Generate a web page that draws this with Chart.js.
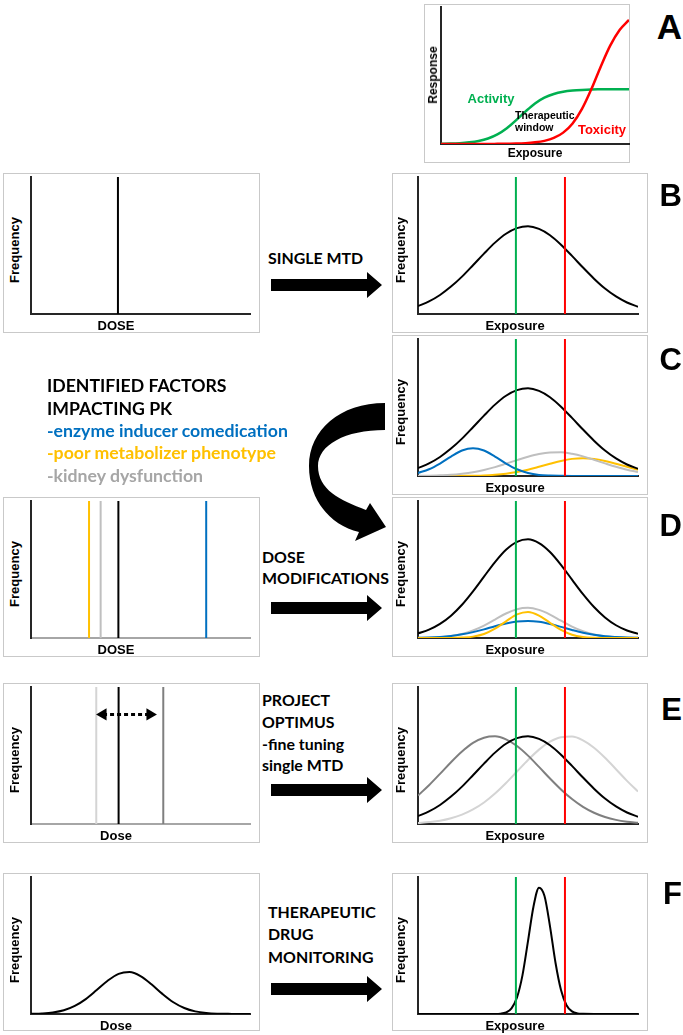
<!DOCTYPE html>
<html>
<head>
<meta charset="utf-8">
<title>Dose and exposure</title>
<script src="https://cdn.jsdelivr.net/npm/chart.js@4.4.1/dist/chart.umd.min.js"></script>
<style>
  body { margin: 0; width: 683px; height: 1035px; position: relative; overflow: hidden; background: #fff;
         font-family: "Liberation Sans", Arial, sans-serif; }
  canvas { position: absolute; }
  .box { position: absolute; border: 1.5px solid #c9c9c9; box-sizing: border-box; }
  .lbl { position: absolute; white-space: nowrap; line-height: 1; font-weight: bold; color: #000;
         transform: translate(-50%, -50%); }
  .rot { transform: translate(-50%, -50%) rotate(-90deg); }
  .mid { position: absolute; white-space: nowrap; line-height: 1; font-family: Lato, "Open Sans", sans-serif;
         font-weight: 700; transform: translateY(-50%); }
  .letter { position: absolute; right: 1px; line-height: 1; font-weight: bold; transform: translateY(-50%); }
  svg { position: absolute; left: 0; top: 0; }
</style>
</head>
<body>
<svg id="arrows" width="683" height="1035"></svg>
<script>
const xs = [0, 5, 10, 15, 20, 25, 30, 35, 40, 45, 50, 55, 60, 65, 70, 75, 80, 85, 90, 95, 100];
const fineXs = [0, 20, 30, 35, 37.5, 40, 42.5, 45, 47.5, 50, 52.5, 55, 57.5, 60, 62.5, 65, 67.5, 70, 72.5, 75, 80, 100];

// A: response vs exposure
const aActivity = [0.2, 0.3, 0.6, 1.2, 2.2, 4.0, 7.0, 11.5, 17.4, 23.8, 29.6, 33.8, 36.5, 38.1, 39.0, 39.5, 39.8, 39.9, 40, 40, 40];
const aToxicity = [0, 0, 0, 0, 0, 0, 0.1, 0.2, 0.3, 0.6, 1.2, 2.3, 4.4, 8.3, 15.0, 25.6, 40.1, 56.6, 71.8, 83.2, 90.6];

// B: single MTD
const bDose = [39.7];
const bExposure = [5.8, 9.2, 13.9, 20.0, 27.3, 35.6, 44.1, 52.1, 58.6, 62.7, 64.0, 62.1, 57.5, 50.6, 42.4, 33.9, 25.8, 18.6, 12.8, 8.4, 5.3];

// exposure limits (activity, toxicity)
const exposureLimits = [44.5, 66.8];

// C: identified factors
const cAll = [5.8, 9.2, 13.9, 20.0, 27.3, 35.6, 44.1, 52.1, 58.6, 62.7, 64.0, 62.1, 57.5, 50.6, 42.4, 33.9, 25.8, 18.6, 12.8, 8.4, 5.3];
const cEnzyme = [2.2, 4.9, 9.1, 14.2, 18.6, 20.3, 18.6, 14.2, 9.1, 4.9, 2.2, 0.8, 0.3, 0.1, 0, 0, 0, 0, 0, 0, 0];
const cPoor = [0, 0, 0, 0, 0.1, 0.2, 0.4, 0.9, 1.7, 2.9, 4.6, 6.7, 8.9, 11.0, 12.5, 13.0, 12.5, 11.0, 8.9, 6.7, 4.6];
const cKidney = [0.1, 0.2, 0.5, 0.9, 1.7, 2.8, 4.4, 6.5, 9.0, 11.6, 14.1, 16.1, 17.2, 17.3, 16.2, 14.3, 11.8, 9.2, 6.7, 4.5, 2.9];

// D: dose modifications (poor metabolizer, kidney, standard, enzyme inducer)
const dDoses = [26.5, 31.8, 39.9, 80.0];
const dAll = [3.4, 6.1, 10.3, 16.3, 24.3, 34.1, 44.8, 55.4, 64.4, 70.2, 72.0, 69.3, 62.8, 53.4, 42.6, 32.0, 22.6, 15.0, 9.3, 5.5, 3.0];
const dEnzyme = [0.2, 0.4, 0.8, 1.5, 2.7, 4.3, 6.3, 8.6, 10.6, 12.0, 12.4, 11.8, 10.2, 8.1, 5.9, 3.9, 2.4, 1.3, 0.7, 0.3, 0.2];
const dPoor = [0, 0, 0, 0, 0.3, 1.0, 2.9, 6.8, 12.2, 17.2, 19.0, 16.4, 11.1, 5.9, 2.4, 0.8, 0.2, 0, 0, 0, 0];
const dKidney = [0.1, 0.2, 0.6, 1.4, 2.9, 5.5, 9.1, 13.5, 17.9, 21.0, 22.0, 20.5, 17.1, 12.6, 8.3, 4.9, 2.6, 1.2, 0.5, 0.2, 0.1];

// E: project optimus (lower, standard, higher dose)
const eDoses = [29.8, 40.0, 60.4];
const eArrowX = [32.9, 54.3];
const eArrowY = 80;
const eLow = [20.8, 28.3, 36.6, 45.1, 52.9, 59.2, 63.0, 64.0, 61.8, 56.9, 49.9, 41.7, 33.2, 25.2, 18.2, 12.5, 8.2, 5.1, 3.0, 1.7, 0.9];
const eMid = [5.8, 9.2, 13.9, 20.0, 27.3, 35.6, 44.1, 52.1, 58.6, 62.7, 64.0, 62.1, 57.5, 50.6, 42.4, 33.9, 25.8, 18.6, 12.8, 8.4, 5.3];
const eHigh = [0.7, 1.4, 2.4, 4.2, 6.8, 10.6, 15.7, 22.2, 29.9, 38.3, 46.7, 54.3, 60.1, 63.4, 63.8, 61.0, 55.6, 48.3, 40.0, 31.5, 23.7];

// F: therapeutic drug monitoring
const fDose = [0.1, 0.4, 1.1, 2.7, 5.9, 10.9, 17.5, 24.3, 29.3, 30.6, 27.7, 21.7, 14.7, 8.6, 4.4, 1.9, 0.7, 0.2, 0.1, 0, 0];
const fExposure = [0, 0, 0, 0, 0.2, 1.1, 4.1, 12.1, 28.4, 53.2, 78.5, 92.2, 86.1, 64.0, 37.4, 17.5, 6.4, 1.9, 0.4, 0.1, 0, 0];

// texts
const panelLetters = ['A', 'B', 'C', 'D', 'E', 'F'];
const textB = ['SINGLE MTD'];
const textC = ['IDENTIFIED FACTORS', 'IMPACTING PK', '-enzyme inducer comedication', '-poor metabolizer phenotype', '-kidney dysfunction'];
const textD = ['DOSE', 'MODIFICATIONS'];
const textE = ['PROJECT', 'OPTIMUS', '-fine tuning', 'single MTD'];
const textF = ['THERAPEUTIC', 'DRUG', 'MONITORING'];

const AXIS = '#262626', GREEN = '#00b050', RED = '#ff0000', BLUE = '#0070c0', ORANGE = '#ffc000',
      GRAY = '#bfbfbf', LIGHT = '#d4d4d4', DARK = '#7f7f7f', TEXTGRAY = '#a6a6a6';

function el(tag, cls, text, css) {
    const e = document.createElement(tag);
    if (cls) e.className = cls;
    if (text) e.textContent = text;
    Object.assign(e.style, css || {});
    document.body.appendChild(e);
    return e;
}

function box(x, y, w, h) {
    el('div', 'box', '', { left: x + 'px', top: y + 'px', width: w + 'px', height: h + 'px' });
}

function label(text, x, y, size, rotate) {
    el('div', rotate ? 'lbl rot' : 'lbl', text, { left: x + 'px', top: y + 'px', fontSize: size + 'px' });
}

function curve(xv, yv, color, width) {
    return {
        data: xv.map((x, i) => ({ x: x, y: yv[i] })),
        borderColor: color, borderWidth: width || 2, pointRadius: 0,
        cubicInterpolationMode: 'monotone', fill: false
    };
}

function vline(x, color) {
    return { data: [{ x: x, y: 0 }, { x: x, y: 100 }], borderColor: color, borderWidth: 2, pointRadius: 0 };
}

// one canvas per plot, chart area placed on the plot rectangle
function drawPanel(plot, datasets, xAxisColor) {
    const pad = 4;
    const c = el('canvas', '', '', { left: (plot.x - pad) + 'px', top: (plot.y - pad) + 'px' });
    c.width = plot.w + 2 * pad;
    c.height = plot.h + 2 * pad;
    const axis = (color) => ({
        type: 'linear', min: 0, max: 100,
        grid: { display: false, drawTicks: false },
        ticks: { display: false },
        border: { display: true, color: color, width: 2, z: -1 }
    });
    new Chart(c, {
        type: 'line',
        data: { datasets: datasets },
        options: {
            responsive: false,
            animation: false,
            layout: { padding: pad, autoPadding: false },
            plugins: { legend: { display: false }, tooltip: { enabled: false } },
            scales: { x: axis(xAxisColor || AXIS), y: axis(AXIS) }
        }
    });
}

// layout
const rowTop = { B: 173, C: 335, D: 497, E: 683, F: 873 };
const leftBox = { x: 3, w: 257 }, rightBox = { x: 392, w: 256 };
const leftPlot = (top) => ({ x: 31, y: top + 4, w: 219, h: 137 });
const rightPlot = (top) => ({ x: 418, y: top + 4, w: 220, h: 137 });

function leftPanel(top, h, xName, datasets, xAxisColor) {
    box(leftBox.x, top, leftBox.w, h);
    drawPanel(leftPlot(top), datasets, xAxisColor);
    label('Frequency', 14, top + 77, 13, true);
    label(xName, 116, top + 152, 13);
}

function rightPanel(top, h, datasets) {
    box(rightBox.x, top, rightBox.w, h);
    drawPanel(rightPlot(top), [vline(exposureLimits[0], GREEN), vline(exposureLimits[1], RED)].concat(datasets));
    label('Frequency', 400, top + 77, 13, true);
    label('Exposure', 515, top + 152, 13);
}

// A
box(424, 4, 206, 159);
drawPanel({ x: 441, y: 7, w: 188, h: 137 }, [curve(xs, aToxicity, RED, 2.5), curve(xs, aActivity, GREEN, 2.5)]);
label('Response', 433, 75, 12, true);
label('Exposure', 535, 153, 12);
el('div', 'lbl', 'Activity', { left: '491px', top: '98px', fontSize: '13px', color: GREEN });
el('div', 'lbl', 'Toxicity', { left: '602px', top: '129px', fontSize: '13px', color: RED });
el('div', 'lbl', 'Therapeutic', { left: '515px', top: '115px', fontSize: '10.5px', transform: 'translateY(-50%)' });
el('div', 'lbl', 'window', { left: '515px', top: '127px', fontSize: '10.5px', transform: 'translateY(-50%)' });

// B
leftPanel(rowTop.B, 160, 'DOSE', [vline(bDose[0], '#000')]);
rightPanel(rowTop.B, 160, [curve(xs, bExposure, '#000')]);

// C
rightPanel(rowTop.C, 160, [curve(xs, cAll, '#000'), curve(xs, cEnzyme, BLUE),
                           curve(xs, cKidney, GRAY), curve(xs, cPoor, ORANGE)]);

// D
leftPanel(rowTop.D, 160, 'DOSE', [vline(dDoses[0], ORANGE), vline(dDoses[1], GRAY),
                                  vline(dDoses[2], '#000'), vline(dDoses[3], BLUE)], '#a6a6a6');
rightPanel(rowTop.D, 160, [curve(xs, dAll, '#000'), curve(xs, dPoor, ORANGE),
                           curve(xs, dEnzyme, BLUE), curve(xs, dKidney, GRAY)]);

// E
leftPanel(rowTop.E, 160, 'Dose', [
    {
        data: eArrowX.map(x => ({ x: x, y: eArrowY })),
        borderColor: '#000', borderWidth: 3, borderDash: [4, 3],
        pointStyle: 'triangle', pointRadius: 7, pointRotation: [270, 90],
        pointBackgroundColor: '#000', pointBorderWidth: 0
    },
    vline(eDoses[0], LIGHT), vline(eDoses[1], '#000'), vline(eDoses[2], DARK)
], '#a6a6a6');
rightPanel(rowTop.E, 160, [curve(xs, eMid, '#000'), curve(xs, eLow, DARK), curve(xs, eHigh, LIGHT)]);

// F
leftPanel(rowTop.F, 158, 'Dose', [curve(xs, fDose, '#000')]);
rightPanel(rowTop.F, 158, [curve(fineXs, fExposure, '#000')]);

// panel letters
const letterY = [25.5, 195, 358.5, 525, 709, 892.5];
panelLetters.forEach((t, i) => {
    el('div', 'letter', t, { top: letterY[i] + 'px', fontSize: (i === 0 ? 35 : 31) + 'px' });
});

// middle texts, font size fitted to the reference line width
function fitSize(text, target) {
    const s = el('span', 'mid', text, { fontSize: '20px', visibility: 'hidden' });
    const w = s.getBoundingClientRect().width;
    s.remove();
    return 20 * target / w;
}

function textBlock(lines, left, centers, size, colors) {
    lines.forEach((t, i) => {
        el('div', 'mid', t, {
            left: left + 'px', top: centers[i] + 'px', fontSize: size + 'px',
            color: colors ? colors[i] : '#000'
        });
    });
}

const midSize = fitSize(textD[1], 127);
textBlock(textB, 268, [258], midSize);
textBlock(textC, 47, [386, 409, 431, 453, 476], fitSize(textC[2], 241), ['#000', '#000', BLUE, ORANGE, TEXTGRAY]);
textBlock(textD, 262, [557, 578], midSize);
textBlock(textE, 262, [700, 722, 744, 765], midSize);
textBlock(textF, 268, [912, 934, 957], midSize);

// block arrows
const svg = document.getElementById('arrows');
const NS = 'http://www.w3.org/2000/svg';
[285, 608, 790, 989].forEach(cy => {
    const p = document.createElementNS(NS, 'polygon');
    p.setAttribute('points', `271,${cy - 6} 367,${cy - 6} 367,${cy - 13} 382,${cy} 367,${cy + 13} 367,${cy + 6} 271,${cy + 6}`);
    p.setAttribute('fill', '#000');
    svg.appendChild(p);
});
const bend = document.createElementNS(NS, 'path');
bend.setAttribute('d', 'M385,403 C340,403 309,430 309,466 C309,500 330,525 359,532 L355,541 L386,527 L370,503 L366,510 C340,500 318,490 318,466 C318,445 345,430 385,430 Z');
bend.setAttribute('fill', '#000');
svg.appendChild(bend);
</script>
</body>
</html>
